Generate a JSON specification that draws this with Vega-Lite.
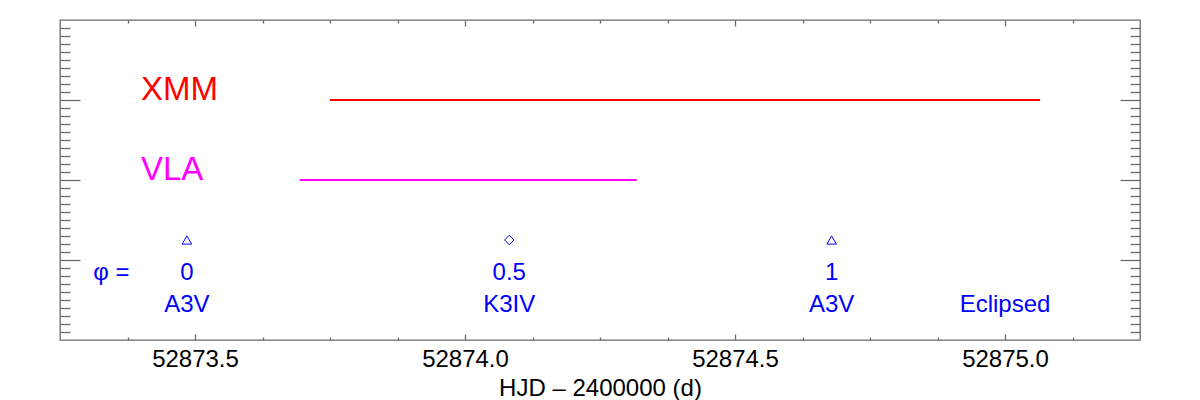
{
  "$schema": "https://vega.github.io/schema/vega-lite/v6.json",
  "width": 1080,
  "height": 320,
  "autosize": {"type": "none"},
  "padding": {"left": 60, "top": 20, "right": 60, "bottom": 60},
  "background": "white",
  "config": {
    "view": {"stroke": "#6a6a6a", "strokeWidth": 1.3},
    "font": "Liberation Sans",
    "axis": {"grid": false, "domain": false, "tickColor": "#6a6a6a", "tickWidth": 1.3, "labelFont": "Liberation Sans", "titleFont": "Liberation Sans", "labelColor": "black", "titleColor": "black", "titleFontWeight": "normal"}
  },
  "datasets": {
    "obs": [
      {"instrument": "XMM", "start": 52873.75, "end": 52875.065, "level": 3},
      {"instrument": "VLA", "start": 52873.694, "end": 52874.318, "level": 2}
    ],
    "markers": [
      {"hjd": 52873.485, "level": 1.25, "kind": "A3V primary"},
      {"hjd": 52874.082, "level": 1.25, "kind": "K3IV"},
      {"hjd": 52874.679, "level": 1.25, "kind": "A3V primary"}
    ],
    "names": [
      {"instrument": "XMM", "hjd": 52873.40, "level": 3},
      {"instrument": "VLA", "hjd": 52873.40, "level": 2}
    ],
    "notes": [
      {"hjd": 52873.345, "level": 0.75, "label": "φ ="},
      {"hjd": 52873.485, "level": 0.75, "label": "0"},
      {"hjd": 52873.485, "level": 0.35, "label": "A3V"},
      {"hjd": 52874.082, "level": 0.75, "label": "0.5"},
      {"hjd": 52874.082, "level": 0.35, "label": "K3IV"},
      {"hjd": 52874.679, "level": 0.75, "label": "1"},
      {"hjd": 52874.679, "level": 0.35, "label": "A3V"},
      {"hjd": 52875.0, "level": 0.35, "label": "Eclipsed"}
    ]
  },
  "layer": [
    {
      "data": {"name": "obs"},
      "mark": {"type": "rule", "strokeWidth": 2},
      "encoding": {
        "x": {"field": "start", "type": "quantitative",
          "scale": {"domain": [52873.25, 52875.25], "nice": false, "zero": false},
          "axis": {"orient": "bottom", "values": [52873.5, 52874.0, 52874.5, 52875.0], "format": ".1f", "tickSize": -6, "labelFontSize": 24, "labelPadding": 13, "title": "HJD – 2400000 (d)", "titleFontSize": 24, "titlePadding": 5}},
        "x2": {"field": "end"},
        "y": {"field": "level", "type": "quantitative",
          "scale": {"domain": [0, 4], "nice": false, "zero": false},
          "axis": {"orient": "left", "values": [1, 2, 3], "tickSize": -20, "labels": false, "title": null}},
        "color": {"field": "instrument", "type": "nominal", "scale": {"domain": ["XMM", "VLA"], "range": ["#ff0000", "#ff00ff"]}, "legend": null}
      }
    },
    {
      "data": {"name": "markers"},
      "mark": {"type": "point", "filled": false, "color": "#0000ff", "strokeWidth": 1, "size": 90, "opacity": 1},
      "encoding": {
        "x": {"field": "hjd", "type": "quantitative",
          "scale": {"domain": [52873.25, 52875.25], "nice": false, "zero": false},
          "axis": {"orient": "bottom", "values": [52873.375, 52873.625, 52873.75, 52873.875, 52874.125, 52874.25, 52874.375, 52874.625, 52874.75, 52874.875, 52875.125], "tickSize": -3, "labels": false, "title": null}},
        "y": {"field": "level", "type": "quantitative",
          "scale": {"domain": [0, 4], "nice": false, "zero": false},
          "axis": {"orient": "left", "values": [0.1, 0.2, 0.3, 0.4, 0.5, 0.6, 0.7, 0.8, 0.9, 1.1, 1.2, 1.3, 1.4, 1.5, 1.6, 1.7, 1.8, 1.9, 2.1, 2.2, 2.3, 2.4, 2.5, 2.6, 2.7, 2.8, 2.9, 3.1, 3.2, 3.3, 3.4, 3.5, 3.6, 3.7, 3.8, 3.9], "tickSize": -10, "labels": false, "title": null}},
        "shape": {"field": "kind", "type": "nominal", "scale": {"domain": ["A3V primary", "K3IV"], "range": ["triangle-up", "diamond"]}, "legend": null}
      }
    },
    {
      "data": {"name": "names"},
      "mark": {"type": "text", "align": "left", "baseline": "alphabetic", "fontSize": 33, "font": "Liberation Sans"},
      "encoding": {
        "x": {"field": "hjd", "type": "quantitative",
          "scale": {"domain": [52873.25, 52875.25], "nice": false, "zero": false},
          "axis": {"orient": "top", "values": [52873.5, 52874.0, 52874.5, 52875.0], "tickSize": -6, "labels": false, "title": null}},
        "y": {"field": "level", "type": "quantitative",
          "scale": {"domain": [0, 4], "nice": false, "zero": false},
          "axis": {"orient": "right", "values": [1, 2, 3], "tickSize": -20, "labels": false, "title": null}},
        "text": {"field": "instrument"},
        "color": {"field": "instrument", "type": "nominal", "scale": {"domain": ["XMM", "VLA"], "range": ["#ff0000", "#ff00ff"]}, "legend": null}
      }
    },
    {
      "data": {"name": "notes"},
      "mark": {"type": "text", "align": "center", "baseline": "alphabetic", "fontSize": 24, "font": "Liberation Sans", "color": "#0000ff"},
      "encoding": {
        "x": {"field": "hjd", "type": "quantitative",
          "scale": {"domain": [52873.25, 52875.25], "nice": false, "zero": false},
          "axis": {"orient": "top", "values": [52873.375, 52873.625, 52873.75, 52873.875, 52874.125, 52874.25, 52874.375, 52874.625, 52874.75, 52874.875, 52875.125], "tickSize": -3, "labels": false, "title": null}},
        "y": {"field": "level", "type": "quantitative",
          "scale": {"domain": [0, 4], "nice": false, "zero": false},
          "axis": {"orient": "right", "values": [0.1, 0.2, 0.3, 0.4, 0.5, 0.6, 0.7, 0.8, 0.9, 1.1, 1.2, 1.3, 1.4, 1.5, 1.6, 1.7, 1.8, 1.9, 2.1, 2.2, 2.3, 2.4, 2.5, 2.6, 2.7, 2.8, 2.9, 3.1, 3.2, 3.3, 3.4, 3.5, 3.6, 3.7, 3.8, 3.9], "tickSize": -10, "labels": false, "title": null}},
        "text": {"field": "label"}
      }
    }
  ],
  "resolve": {"scale": {"x": "independent", "y": "independent", "color": "independent", "shape": "independent"}, "axis": {"x": "independent", "y": "independent"}}
}
